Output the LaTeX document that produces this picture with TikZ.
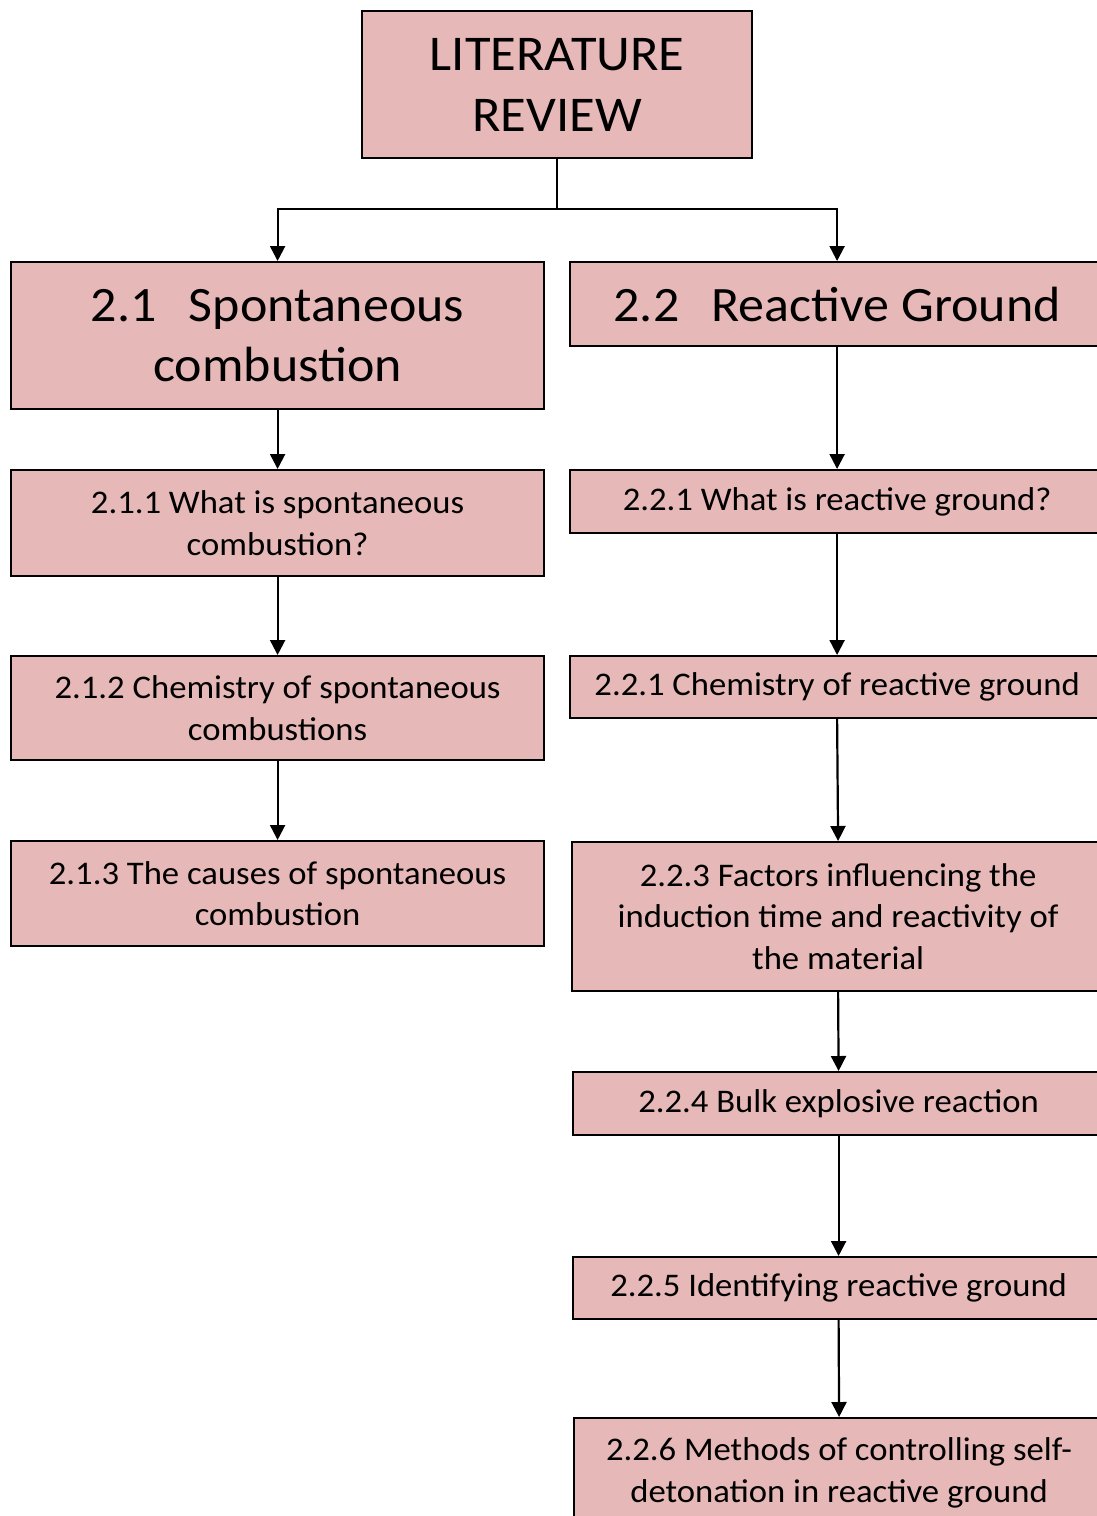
\documentclass[tikz,border=0pt]{standalone}
\usepackage{fontspec}
\setmainfont[FakeStretch=1.05]{Carlito}
\usetikzlibrary{arrows.meta}
\definecolor{boxpink}{HTML}{E6B8B7}
\tikzset{
  box/.style={draw=black, line width=2.2pt, fill=boxpink, anchor=north west,
    align=center, inner sep=0pt},
  bigtext/.style={font=\fontsize{50}{61}\selectfont},
  midtext/.style={font=\fontsize{49.5}{60}\selectfont},
  smalltext/.style={font=\fontsize{33}{41.5}\selectfont},
  link/.style={line width=2.2pt, -{Triangle[width=15pt,length=15pt]}},
  joint/.style={line width=2.2pt}
}
\begin{document}
\begin{tikzpicture}[x=1pt,y=-1pt]
\useasboundingbox (0,0) rectangle (1097,1516);

% top box
\node[box, bigtext, minimum width=390pt, minimum height=147pt] (lr) at (361,10)
  {LITERATURE\\REVIEW};

% left column
\node[box, midtext, minimum width=533pt, minimum height=147pt] (s21) at (10,261)
  {2.1\hspace{0.65em}Spontaneous\\combustion};
\node[box, smalltext, minimum width=533pt, minimum height=106pt] (l1) at (10,469)
  {2.1.1 What is spontaneous\\combustion?};
\node[box, smalltext, minimum width=533pt, minimum height=104pt] (l2) at (10,655)
  {2.1.2 Chemistry of spontaneous\\combustions};
\node[box, smalltext, minimum width=533pt, minimum height=105pt] (l3) at (10,840)
  {2.1.3 The causes of spontaneous\\combustion};

% right column
\node[box, midtext, minimum width=534pt, minimum height=84pt] (s22) at (569,261)
  {2.2\hspace{0.65em}Reactive Ground};
\node[box, smalltext, minimum width=534pt, minimum height=63pt] (r1) at (569,469)
  {2.2.1 What is reactive ground?};
\node[box, smalltext, minimum width=534pt, minimum height=62pt] (r2) at (569,655)
  {2.2.1 Chemistry of reactive ground};
\node[box, smalltext, minimum width=532pt, minimum height=149pt] (r3) at (571,841)
  {2.2.3 Factors influencing the\\induction time and reactivity of\\the material};
\node[box, smalltext, minimum width=531pt, minimum height=63pt] (r4) at (572,1071)
  {2.2.4 Bulk explosive reaction};
\node[box, smalltext, minimum width=531pt, minimum height=62pt] (r5) at (572,1256)
  {2.2.5 Identifying reactive ground};
\node[box, smalltext, minimum width=530pt, minimum height=110pt] (r6) at (573,1417)
  {2.2.6 Methods of controlling self-\\detonation in reactive ground};

% branching connector from the top box
\coordinate (split) at (lr.south |- 0,209);
\draw[joint] (lr.south) -- (split);
\draw[link] (split) -| (s21.north);
\draw[link] (split) -| (s22.north);

% left chain
\draw[link] (s21.south) -- (l1.north);
\draw[link] (l1.south) -- (l2.north);
\draw[link] (l2.south) -- (l3.north);

% right chain
\draw[link] (s22.south) -- (r1.north);
\draw[link] (r1.south) -- (r2.north);
\draw[link] (r2.south) -- (r3.north);
\draw[link] (r3.south) -- (r4.north);
\draw[link] (r4.south) -- (r5.north);
\draw[link] (r5.south) -- (r6.north);
\end{tikzpicture}
\end{document}
